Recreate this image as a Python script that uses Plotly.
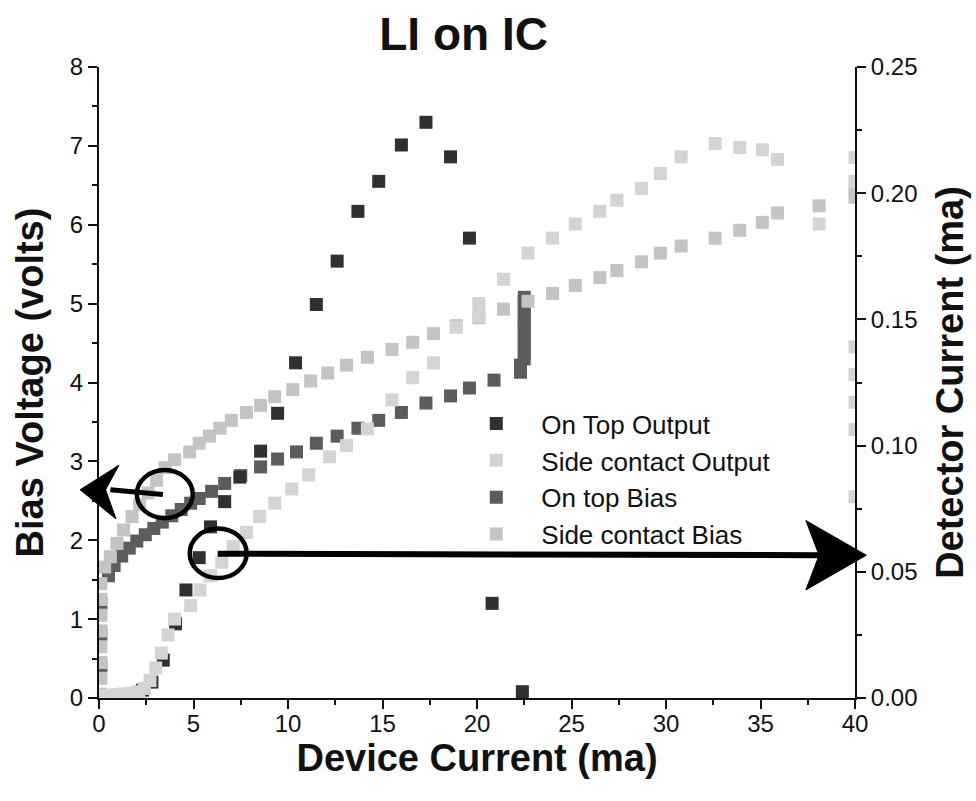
import plotly.graph_objects as go

# ---- data -------------------------------------------------------------
# On Top Output: detector current (ma) vs device current (ma)
ontop_out_x = [0.3, 0.8, 1.3, 1.8, 2.3, 2.8, 3.4, 4.05, 4.6, 5.3, 5.9, 6.65,
               7.45, 8.55, 9.45, 10.4, 11.5, 12.6, 13.7, 14.8, 16.0, 17.3,
               18.6, 19.6, 20.8, 22.4]
ontop_out_ma = [0.0000, 0.0003, 0.0006, 0.0016, 0.0031, 0.0063, 0.0150,
                0.0294, 0.0428, 0.0556, 0.0678, 0.0778, 0.0875, 0.0978,
                0.1128, 0.1328, 0.1559, 0.1731, 0.1928, 0.2047, 0.2191,
                0.2281, 0.2144, 0.1822, 0.0375, 0.0025]

# Side contact Output: detector current (ma)
side_out_x = [0.1, 0.5, 0.9, 1.3, 1.7, 2.1, 2.4, 2.7, 3.0, 3.3, 3.65, 4.0,
              4.85, 5.35, 5.9, 6.5, 7.1, 7.8, 8.5, 9.3, 10.2, 11.1, 12.2,
              13.1, 14.2, 15.5, 16.6, 17.7, 18.9, 20.1, 20.1, 21.4, 22.7,
              24.0, 25.2, 26.5, 27.4, 28.7, 29.7, 30.8, 32.6, 33.9, 35.1,
              35.9, 38.1, 40.0, 40.0, 40.0, 40.0, 40.0, 40.0, 40.0]
side_out_ma = [0.0009, 0.0009, 0.0013, 0.0016, 0.0019, 0.0025, 0.0038,
               0.0069, 0.0119, 0.0178, 0.0250, 0.0313, 0.0366, 0.0428,
               0.0484, 0.0538, 0.0600, 0.0656, 0.0719, 0.0772, 0.0828,
               0.0884, 0.0956, 0.1000, 0.1066, 0.1181, 0.1269, 0.1328,
               0.1469, 0.1513, 0.1563, 0.1659, 0.1763, 0.1822, 0.1878,
               0.1928, 0.1972, 0.2019, 0.2078, 0.2144, 0.2197, 0.2181,
               0.2172, 0.2134, 0.1878, 0.2141, 0.2047, 0.1391, 0.1281,
               0.1172, 0.1063, 0.0797]

# On top Bias: bias voltage (volts)
ontop_bias_x = [0.1, 0.1, 0.1, 0.5, 0.8, 1.2, 1.6, 2.0, 2.45, 2.9, 3.35,
                3.85, 4.35, 4.85, 5.3, 5.96, 6.65, 7.5, 8.55, 9.45, 10.45,
                11.5, 12.6, 13.7, 14.8, 16.0, 17.3, 18.6, 19.6, 20.9, 22.3,
                22.3, 22.5, 22.5, 22.5, 22.5, 22.5, 22.5, 22.5, 22.5, 22.5,
                22.5, 22.5]
ontop_bias_v = [0.4, 0.8, 1.2, 1.55, 1.68, 1.80, 1.90, 1.99, 2.07, 2.15,
                2.23, 2.31, 2.39, 2.47, 2.53, 2.62, 2.72, 2.82, 2.93, 3.03,
                3.12, 3.23, 3.32, 3.42, 3.52, 3.62, 3.74, 3.83, 3.93, 4.03,
                4.13, 4.22, 4.30, 4.38, 4.46, 4.54, 4.62, 4.70, 4.78, 4.86,
                4.94, 5.02, 5.08]

# Side contact Bias: bias voltage (volts)
side_bias_x = [0.1, 0.1, 0.1, 0.1, 0.1, 0.1, 0.1, 0.1, 0.3, 0.6, 0.95, 1.3,
               1.75, 2.15, 2.6, 3.05, 3.5, 4.0, 4.8, 5.3, 5.85, 6.4, 7.0,
               7.8, 8.55, 9.3, 10.25, 11.2, 12.1, 13.1, 14.2, 15.5, 16.6,
               17.7, 18.9, 20.1, 21.4, 22.7, 24.0, 25.2, 26.5, 27.4, 28.7,
               29.7, 30.8, 32.6, 33.9, 35.1, 35.9, 38.1, 40.0, 40.0]
side_bias_v = [0.05, 0.25, 0.45, 0.65, 0.85, 1.05, 1.25, 1.45, 1.66, 1.79,
               1.96, 2.13, 2.30, 2.45, 2.60, 2.76, 2.92, 3.02, 3.12, 3.23,
               3.32, 3.42, 3.52, 3.62, 3.71, 3.82, 3.91, 4.02, 4.12, 4.22,
               4.32, 4.42, 4.51, 4.62, 4.72, 4.82, 4.93, 5.03, 5.13, 5.23,
               5.33, 5.42, 5.53, 5.64, 5.73, 5.83, 5.93, 6.03, 6.15, 6.24,
               6.35, 6.45]

X_RANGE = [0, 40]
Y_RANGE = [0, 8]
Y2_RANGE = [0, 0.25]

SANS = "Liberation Sans, Arial, Helvetica, sans-serif"
INK = "#111111"

fig = go.Figure()

# drawing order: bias curves first, outputs on top
fig.add_trace(go.Scatter(
    x=ontop_bias_x, y=ontop_bias_v, mode="markers", name="On top Bias",
    legendrank=3,
    marker=dict(symbol="square", size=13, color="#5c5c5c", line=dict(width=0)),
))
fig.add_trace(go.Scatter(
    x=side_bias_x, y=side_bias_v, mode="markers", name="Side contact Bias",
    legendrank=4,
    marker=dict(symbol="square", size=13, color="#c4c4c4", line=dict(width=0)),
))
fig.add_trace(go.Scatter(
    x=ontop_out_x, y=ontop_out_ma, mode="markers", name="On Top Output",
    yaxis="y2", legendrank=1,
    marker=dict(symbol="square", size=13, color="#303030", line=dict(width=0)),
))
fig.add_trace(go.Scatter(
    x=side_out_x, y=side_out_ma, mode="markers", name="Side contact Output",
    yaxis="y2", legendrank=2,
    marker=dict(symbol="square", size=13, color="#d4d4d4", line=dict(width=0)),
))

# ---- callouts: circles with arrows pointing at the relevant axis -------
def px(x):
    return (x - X_RANGE[0]) / (X_RANGE[1] - X_RANGE[0])


def py(y):
    return (y - Y_RANGE[0]) / (Y_RANGE[1] - Y_RANGE[0])


def poly(points):
    return "M " + " L ".join(f"{px(a):.4f},{py(b):.4f}" for a, b in points) + " Z"


# circle around the bias curve, arrow to the left axis
bias_ring = dict(x0=2.0, x1=4.96, y0=2.28, y1=2.89)
bias_shaft = [(3.38, 2.58), (0.6, 2.64)]
bias_head = [(-1.0, 2.64), (1.05, 2.95), (0.35, 2.64), (0.9, 2.27)]

# circle around the output curve, arrow to the right axis
out_ring = dict(x0=4.8, x1=7.81, y0=1.52, y1=2.15)
out_shaft = [(6.28, 1.83), (38.2, 1.81)]
out_head = [(40.6, 1.81), (37.4, 2.25), (38.1, 1.81), (37.4, 1.37)]

for ring in (bias_ring, out_ring):
    fig.add_shape(type="circle", xref="x", yref="y", **ring,
                  line=dict(color="black", width=4.5), layer="above")

for shaft, width in ((bias_shaft, 5), (out_shaft, 6)):
    (xa, ya), (xb, yb) = shaft
    fig.add_shape(type="line", xref="paper", yref="paper",
                  x0=px(xa), y0=py(ya), x1=px(xb), y1=py(yb),
                  line=dict(color="black", width=width), layer="above")

for head in (bias_head, out_head):
    fig.add_shape(type="path", xref="paper", yref="paper", path=poly(head),
                  fillcolor="black", line=dict(color="black", width=1),
                  layer="above")

axis_common = dict(
    showgrid=False, zeroline=False, showline=True, linecolor=INK,
    linewidth=2, ticks="outside", ticklen=9, tickwidth=2, tickcolor=INK,
    tickfont=dict(family=SANS, size=24, color=INK),
)

fig.update_layout(
    width=976, height=801,
    paper_bgcolor="white", plot_bgcolor="white",
    margin=dict(l=99, r=119, t=67, b=103),
    title=dict(text="<b>LI on IC</b>", x=0.475, xanchor="center",
               y=0.958, yanchor="middle",
               font=dict(family=SANS, size=46, color=INK)),
    xaxis=dict(range=X_RANGE, dtick=5, tick0=0, ticklabelstandoff=-6,
               minor=dict(dtick=2.5, ticks="outside", ticklen=5,
                          tickwidth=2, tickcolor=INK),
               title=dict(text="<b>Device Current (ma)</b>", standoff=0,
                          font=dict(family=SANS, size=38, color=INK)),
               **axis_common),
    yaxis=dict(range=Y_RANGE, dtick=1, tick0=0,
               minor=dict(dtick=0.5, ticks="outside", ticklen=5,
                          tickwidth=2, tickcolor=INK),
               title=dict(text="<b>Bias Voltage (volts)</b>", standoff=15,
                          font=dict(family=SANS, size=38, color=INK)),
               **axis_common),
    yaxis2=dict(range=Y2_RANGE, dtick=0.05, tick0=0, tickformat=".2f",
                overlaying="y", side="right",
                minor=dict(dtick=0.025, ticks="outside", ticklen=5,
                           tickwidth=2, tickcolor=INK),
                title=dict(text="<b>Detector Current (ma)</b>", standoff=20,
                           font=dict(family=SANS, size=38, color=INK)),
                **axis_common),
    legend=dict(x=0.466, y=0.472, xanchor="left", yanchor="top",
                bgcolor="rgba(0,0,0,0)", itemwidth=80, traceorder="normal",
                font=dict(family=SANS, size=26, color=INK)),
    showlegend=True,
)

fig.write_html("out.html")
